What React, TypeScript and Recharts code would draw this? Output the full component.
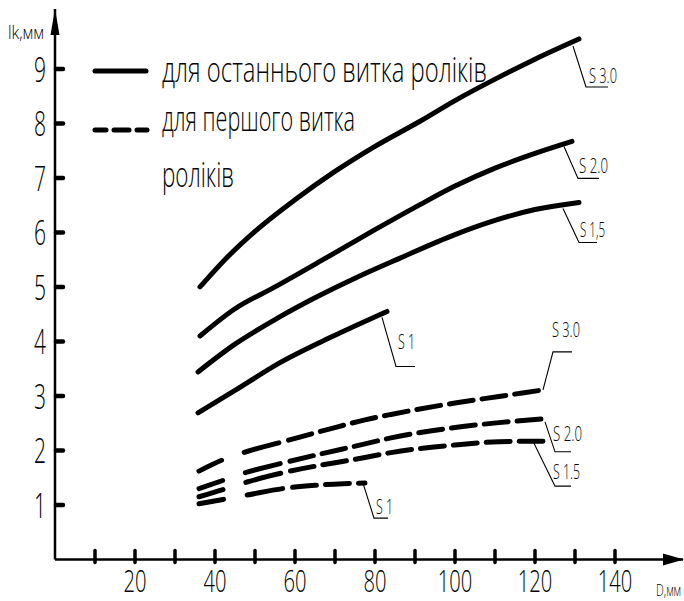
import React from 'react';
import { LineChart, Line, XAxis, YAxis, ReferenceDot } from 'recharts';

const FONT = "'Open Sans', Lato, Roboto, sans-serif";
const FW = 300;

const xTicks = [10, 20, 30, 40, 50, 60, 70, 80, 90, 100, 110, 120, 130, 140];
const yTicks = [1, 2, 3, 4, 5, 6, 7, 8, 9];

// solid: для останнього витка роліків
const solidS30 = [
  { x: 36.25, y: 5.0 }, { x: 43, y: 5.54 }, { x: 50, y: 6.02 }, { x: 60, y: 6.6 },
  { x: 70, y: 7.12 }, { x: 80, y: 7.58 }, { x: 91.25, y: 8.04 }, { x: 100, y: 8.42 },
  { x: 111, y: 8.85 }, { x: 120, y: 9.18 }, { x: 131, y: 9.55 },
];
const solidS20 = [
  { x: 36.25, y: 4.1 }, { x: 45, y: 4.6 }, { x: 55, y: 5.0 }, { x: 67, y: 5.5 },
  { x: 80, y: 6.05 }, { x: 91.25, y: 6.51 }, { x: 100, y: 6.85 }, { x: 110, y: 7.18 },
  { x: 120, y: 7.45 }, { x: 129.25, y: 7.67 },
];
const solidS15 = [
  { x: 35.75, y: 3.44 }, { x: 45, y: 3.95 }, { x: 55, y: 4.4 }, { x: 65, y: 4.8 },
  { x: 75, y: 5.16 }, { x: 86, y: 5.52 }, { x: 100, y: 5.96 },
  { x: 110, y: 6.22 }, { x: 120, y: 6.42 }, { x: 131, y: 6.55 },
];
const solidS1 = [
  { x: 35.75, y: 2.69 }, { x: 45, y: 3.1 }, { x: 56.25, y: 3.61 }, { x: 68.75, y: 4.07 },
  { x: 83, y: 4.55 },
];

// dashed: для першого витка роліків
const dashS30 = [
  { x: 36, y: 1.62 }, { x: 42, y: 1.83 }, { x: 48, y: 1.98 }, { x: 57, y: 2.16 },
  { x: 69, y: 2.4 }, { x: 77.5, y: 2.56 }, { x: 84, y: 2.66 }, { x: 100, y: 2.87 },
  { x: 111, y: 2.99 }, { x: 122, y: 3.11 },
];
const dashS20 = [
  { x: 36, y: 1.3 }, { x: 42, y: 1.45 }, { x: 48, y: 1.6 }, { x: 57, y: 1.77 },
  { x: 77.5, y: 2.12 }, { x: 84, y: 2.23 }, { x: 100, y: 2.42 }, { x: 111, y: 2.51 },
  { x: 122, y: 2.58 },
];
const dashS15 = [
  { x: 36, y: 1.15 }, { x: 42, y: 1.28 }, { x: 48, y: 1.42 }, { x: 57, y: 1.59 },
  { x: 77.5, y: 1.87 }, { x: 84, y: 1.96 }, { x: 100, y: 2.1 }, { x: 111, y: 2.16 },
  { x: 122, y: 2.17 },
];
const dashS1 = [
  { x: 36, y: 1.02 }, { x: 42, y: 1.1 }, { x: 48, y: 1.18 }, { x: 57, y: 1.3 },
  { x: 65, y: 1.36 }, { x: 72, y: 1.39 }, { x: 77.5, y: 1.4 },
];

const legendSolid = 'для останнього витка роліків';
const legendDash1 = 'для першого витка';
const legendDash2 = 'роліків';

const DASH = [25, 24, 36, 10].concat(Array.from({ length: 16 }).flatMap(() => [24, 9])).join(' ');

type LeaderCfg = { p0: [number, number]; p1: [number, number]; p2: [number, number]; tx: number; ty: number; text: string; len: number };

const leaders: { data: { x: number; y: number }[]; cfg: LeaderCfg }[] = [
  { data: solidS30, cfg: { p0: [-6, 7], p1: [7, 48], p2: [29, 48], tx: 10, ty: 44, text: 'S 3.0', len: 28 } },
  { data: solidS20, cfg: { p0: [-8, 5], p1: [6, 37], p2: [27, 37], tx: 7, ty: 32, text: 'S 2.0', len: 29 } },
  { data: solidS15, cfg: { p0: [-16, 6], p1: [0, 40], p2: [18, 40], tx: 1, ty: 35, text: 'S 1,5', len: 25 } },
  { data: solidS1, cfg: { p0: [-5, 6], p1: [9, 55], p2: [28, 55], tx: 11, ty: 38, text: 'S 1', len: 17 } },
  { data: dashS30, cfg: { p0: [0, 0], p1: [10, -38], p2: [29, -38], tx: 9, ty: -53, text: 'S 3.0', len: 28 } },
  { data: dashS20, cfg: { p0: [2, 3], p1: [12, 33], p2: [28, 33], tx: 10, ty: 22, text: 'S 2.0', len: 29 } },
  { data: dashS15, cfg: { p0: [-10, 0], p1: [12, 45], p2: [28, 45], tx: 10, ty: 38, text: 'S 1.5', len: 27 } },
  { data: dashS1, cfg: { p0: [-2, 0], p1: [9, 35], p2: [23, 35], tx: 11, ty: 31, text: 'S 1', len: 17 } },
];

let measureCtx: CanvasRenderingContext2D | null = null;
const measure = (text: string, size: number) => {
  if (typeof document === 'undefined') return text.length * size * 0.5;
  if (!measureCtx) measureCtx = document.createElement('canvas').getContext('2d');
  if (!measureCtx) return text.length * size * 0.5;
  measureCtx.font = `${FW} ${size}px ${FONT}`;
  return measureCtx.measureText(text).width || text.length * size * 0.5;
};

// narrow drafting-style text: horizontally compressed to a target width
const Txt = ({ x, y, text, size, len, anchor = 'start' }: any) => {
  const sx = len / measure(text, size);
  return (
    <text transform={`translate(${x},${y}) scale(${sx},1)`} x={0} y={0} fontSize={size} fontFamily={FONT}
      fontWeight={FW} fill="#000" textAnchor={anchor}>{text}</text>
  );
};

const XTick = (props: any) => {
  const { x, y, payload } = props;
  const v = payload.value;
  const s = String(v);
  return (
    <g>
      <line x1={x} x2={x} y1={y - 9} y2={y + 3} stroke="#000" strokeWidth={3.5} strokeLinecap="round" />
      {v % 20 === 0 && <Txt x={x} y={y + 33} text={s} size={32} len={s.length * 11.5} anchor="middle" />}
    </g>
  );
};

const YTick = (props: any) => {
  const { x, y, payload } = props;
  const s = String(payload.value);
  return (
    <g>
      <line x1={x + 1} x2={x + 8} y1={y} y2={y} stroke="#000" strokeWidth={4.5} strokeLinecap="round" />
      <Txt x={x - 9} y={y + 13} text={s} size={35} len={12} anchor="end" />
    </g>
  );
};

const makeLeader = (cfg: LeaderCfg) => (p: any) => {
  const { cx, cy } = p;
  const pts = [cfg.p0, cfg.p1, cfg.p2].map(([dx, dy]) => `${cx + dx},${cy + dy}`).join(' ');
  return (
    <g>
      <polyline points={pts} fill="none" stroke="#000" strokeWidth={1.1} />
      <Txt x={cx + cfg.tx} y={cy + cfg.ty} text={cfg.text} size={21} len={cfg.len} />
    </g>
  );
};

const YArrow = (p: any) => (
  <polygon points={`${p.cx},${p.cy} ${p.cx - 4.5},${p.cy + 26} ${p.cx + 4.5},${p.cy + 26}`} fill="#000" />
);
const XArrow = (p: any) => (
  <polygon points={`${p.cx + 1},${p.cy} ${p.cx - 20},${p.cy - 6} ${p.cx - 20},${p.cy + 6}`} fill="#000" />
);

const lineProps = { dataKey: 'y', type: 'monotone' as const, stroke: '#000', strokeWidth: 5, dot: false, activeDot: false, isAnimationActive: false, strokeLinecap: 'round' as const };

export default function App() {
  return (
    <div style={{ position: 'absolute', left: 0, top: 0, width: 684, height: 601, background: '#fff' }}>
      <LineChart width={684} height={601} margin={{ top: 9, right: 1, bottom: 40.6, left: 54 }}>
        <XAxis type="number" dataKey="x" domain={[0, 157]} ticks={xTicks} height={1}
          axisLine={{ stroke: '#000', strokeWidth: 2.5 }} tickLine={false} tickSize={0} tickMargin={0}
          tick={XTick} interval={0} allowDataOverflow />
        <YAxis type="number" dataKey="y" domain={[0, 10.1]} ticks={yTicks} width={1}
          axisLine={{ stroke: '#000', strokeWidth: 2.5 }} tickLine={false} tickSize={0} tickMargin={0}
          tick={YTick} interval={0} allowDataOverflow />
        <Line data={solidS30} {...lineProps} />
        <Line data={solidS20} {...lineProps} />
        <Line data={solidS15} {...lineProps} />
        <Line data={solidS1} {...lineProps} />
        <Line data={dashS30} {...lineProps} strokeDasharray={DASH} />
        <Line data={dashS20} {...lineProps} strokeDasharray={DASH} />
        <Line data={dashS15} {...lineProps} strokeDasharray={DASH} />
        <Line data={dashS1} {...lineProps} strokeDasharray={DASH} />
        {leaders.map((l, i) => {
          const last = l.data[l.data.length - 1];
          return <ReferenceDot key={i} x={last.x} y={last.y} r={0} ifOverflow="visible" shape={makeLeader(l.cfg)} />;
        })}
        <ReferenceDot x={0} y={10.1} r={0} ifOverflow="visible" shape={YArrow} />
        <ReferenceDot x={157} y={0} r={0} ifOverflow="visible" shape={XArrow} />
      </LineChart>
      <svg width={684} height={601} style={{ position: 'absolute', left: 0, top: 0, pointerEvents: 'none' }}>
        <line x1={95} x2={146} y1={71} y2={71} stroke="#000" strokeWidth={5} strokeLinecap="round" />
        <line x1={95} x2={147} y1={130} y2={130} stroke="#000" strokeWidth={5} strokeLinecap="round" strokeDasharray="11 8 15 8 12 20" />
        <Txt x={162} y={82} text={legendSolid} size={34} len={325} />
        <Txt x={162} y={131} text={legendDash1} size={34} len={193} />
        <Txt x={162} y={187} text={legendDash2} size={34} len={72} />
        <Txt x={8} y={39} text="lk,мм" size={19} len={36} />
        <Txt x={656} y={596} text="D,мм" size={17} len={25} />
      </svg>
    </div>
  );
}
